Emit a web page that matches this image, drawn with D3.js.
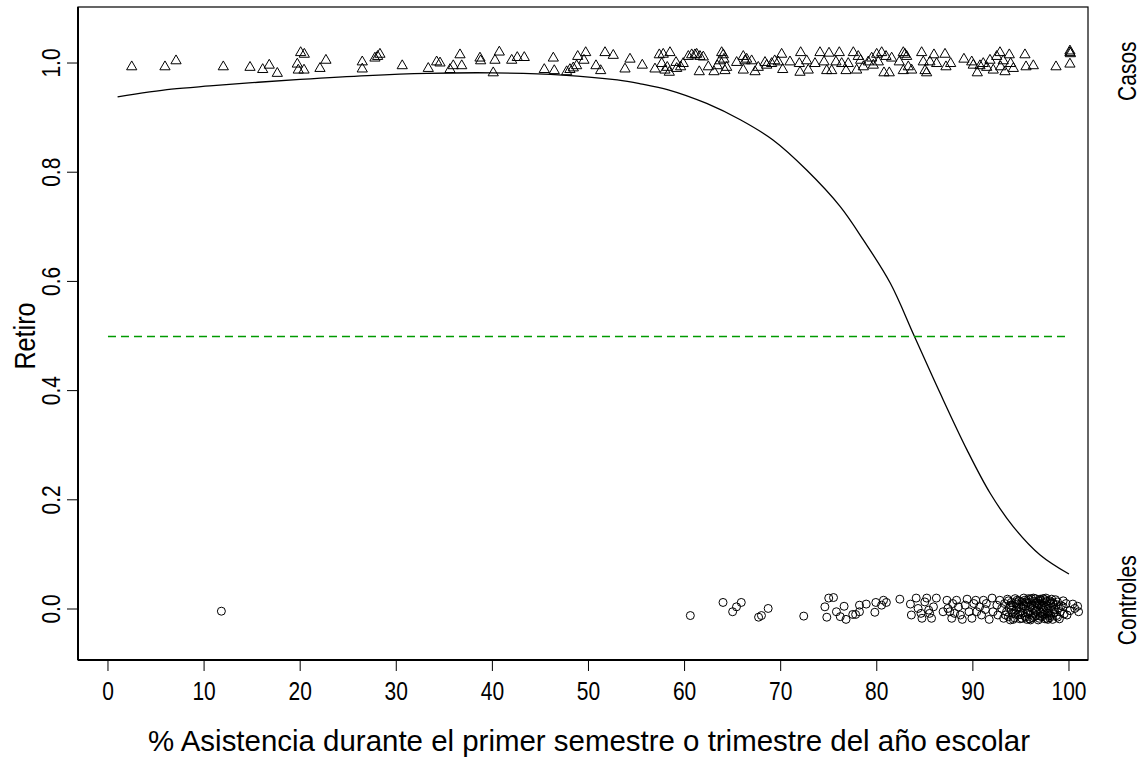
<!DOCTYPE html>
<html><head><meta charset="utf-8">
<script src="https://cdn.jsdelivr.net/npm/d3@7"></script>
<style>body{margin:0;background:#fff}svg{display:block}text{font-family:"Liberation Sans",Arial,sans-serif;fill:#000}</style>
</head><body><svg id="c" width="1141" height="767"></svg>
<script>
// ---- data ----
const xTicks = [0,10,20,30,40,50,60,70,80,90,100];
const yTicks = [0.0,0.2,0.4,0.6,0.8,1.0];
const yTickLabels = ["0.0","0.2","0.4","0.6","0.8","1.0"];
const xTitle = "% Asistencia durante el primer semestre o trimestre del año escolar";
const yTitle = "Retiro";
const groupLabels = ["Casos","Controles"];
const groupValues = [0.985, 0.016];
const cutoff = 0.5;

const curveX = [1,6.6,10.6,15,20,27,33.2,40,47.3,53,55.4,58.3,62.3,65.8,69.2,72.7,76.2,78.6,81.4,83.9,86.6,89.4,91.8,94.2,97.0,100];
const curveY = [0.938,0.952,0.958,0.964,0.970,0.977,0.981,0.982,0.978,0.969,0.962,0.951,0.926,0.896,0.859,0.804,0.737,0.676,0.597,0.500,0.395,0.291,0.212,0.151,0.099,0.064];

const casoX = [2.47,5.93,7.08,12.0,14.78,16.10,16.78,17.62,19.70,20.05,20.43,19.80,20.40,22.06,22.68,26.46,26.46,27.78,28.06,28.30,30.62,33.33,
34.20,34.55,35.59,35.93,36.81,36.63,38.71,38.78,40.27,40.09,40.72,42.01,42.59,43.32,45.40,46.34,46.44,47.73,48.07,48.42,48.77,48.88,49.53,49.71,50.78,51.27,51.72,52.58,53.80,54.32,55.60,56.92,57.37,57.62,57.78,57.96,58.20,58.48,58.41,59.11,59.18,59.59,59.86,60.39,60.74,61.08,61.26,61.60,61.95,61.53,62.47,63.06,63.40,63.68,63.86,64.03,64.10,64.20,64.38,65.42,66.11,66.29,66.11,66.46,66.98,67.33,67.67,68.37,68.55,69.06,69.38,69.75,
70.10,70.21,70.97,71.94,72.08,72.01,72.71,72.87,73.57,74.09,74.51,74.79,75.03,75.31,75.75,76.10,76.35,76.80,77.03,77.56,77.91,78.07,78.32,78.60,79.12,79.47,79.64,79.99,80.16,80.51,80.75,80.96,81.30,81.55,82.34,82.76,82.93,83.11,83.28,82.76,83.63,84.67,84.84,85.02,85.19,85.53,85.95,86.23,87.10,87.20,87.69,89.07,89.88,90.04,90.46,90.74,91.08,91.44,91.78,92.12,92.48,92.82,92.89,93.16,93.34,93.79,93.93,94.21,95.42,95.53,96.29,98.65,100.10,100.10,100.10,100.15];
const casoY = [0.993,0.993,1.004,0.993,0.992,0.988,0.996,0.981,0.998,1.019,1.016,0.987,0.987,0.990,1.005,1.002,0.989,1.009,1.012,1.016,0.995,0.990,
1.002,1.000,0.988,0.995,0.995,1.015,1.009,1.004,1.005,0.982,1.020,1.005,1.010,1.010,0.988,1.009,0.986,0.984,0.988,0.991,0.995,1.012,1.005,1.019,0.995,0.986,1.019,1.014,0.989,1.007,0.996,0.989,1.015,0.999,1.016,0.987,0.992,1.019,0.983,1.001,0.990,0.993,0.999,1.012,1.015,1.015,1.016,1.012,1.011,0.984,0.993,0.984,0.995,1.004,1.019,1.015,1.007,0.986,0.992,1.001,1.012,1.004,0.987,1.007,1.004,0.984,0.992,1.001,0.996,0.999,1.004,1.002,
1.016,0.988,1.002,0.999,1.019,0.983,1.004,0.987,0.999,1.019,1.002,0.986,1.018,0.986,1.002,1.019,0.999,0.986,0.999,1.019,0.987,1.012,1.005,0.993,1.002,1.009,0.996,1.016,1.002,1.019,0.982,1.012,0.982,1.009,1.002,1.019,1.016,1.012,0.993,0.986,0.987,1.019,1.002,0.986,0.982,1.002,1.015,0.999,1.016,0.993,0.999,1.007,1.002,0.996,0.982,0.995,0.999,0.992,1.005,0.987,1.012,1.019,0.993,1.004,0.984,1.015,0.999,0.990,1.015,0.993,0.995,0.993,1.019,0.998,1.022,1.017];

const conX = [11.8,60.6,64.0,65.0,65.4,65.9,67.7,68.0,68.7,72.4,74.6,74.8,75.0,75.5,75.8,76.2,76.6,76.8,77.5,77.8,78.2,78.2,78.9,79.8,79.9,80.5,80.7,81.0,82.4,83.5,83.6,84.1,84.3,84.6,84.7,85.0,85.2,85.4,85.5,85.7,85.9,86.2,86.9,87.3,87.4,87.6,87.8,87.9,88.1,88.3,88.5,88.7,88.9,89.2,89.4,89.6,89.9,90.1,90.3,90.4,90.7,90.9,91.1,91.3,91.4,91.7,92.0,92.1,92.5,92.6,92.8,93.0,93.2,
93.3,93.5,93.6,93.7,93.8,93.9,94.0,94.1,94.2,94.3,94.4,94.5,94.6,94.7,94.8,94.9,95.0,95.1,95.2,95.3,95.4,95.5,95.6,95.7,95.8,95.9,96.0,96.1,96.2,96.3,96.4,96.5,96.6,96.7,96.8,96.9,97.0,97.1,97.2,97.3,97.4,97.5,97.6,97.7,97.8,97.9,98.0,98.1,98.2,98.3,98.4,98.5,98.6,98.8,98.9,
93.4,93.9,94.2,94.6,94.9,95.2,95.5,95.8,96.0,96.3,96.6,96.9,97.1,97.4,97.7,97.9,98.2,98.5,98.7,99.0,
94.0,94.4,94.8,95.1,95.4,95.7,96.1,96.4,96.7,97.0,97.3,97.6,97.8,98.1,98.4,98.8,99.2,99.5,99.7,100.1,
95.0,95.3,95.6,95.9,96.2,96.5,96.8,97.2,97.5,97.8,98.0,98.3,96.0,96.5,97.0,97.5,96.3,97.3,94.5,93.7,
99.4,99.8,100.4,100.6,100.9,101.0,99.4,99.1,98.7];
const conY = [-0.004,-0.012,0.012,-0.005,0.004,0.012,-0.015,-0.012,0.001,-0.013,0.004,-0.015,0.020,0.021,-0.005,-0.014,0.005,-0.019,-0.010,-0.010,-0.005,0.007,0.009,-0.006,0.012,0.007,0.016,0.012,0.018,0.009,-0.011,0.020,0.001,-0.008,-0.017,0.013,0.020,-0.002,-0.008,-0.017,0.004,0.020,-0.005,0.016,0.001,-0.005,-0.017,0.010,-0.008,0.016,0.004,-0.011,-0.019,0.007,0.018,-0.005,-0.017,0.010,0.016,-0.005,0.004,-0.011,0.016,-0.001,0.010,-0.019,0.020,-0.005,0.007,-0.011,0.016,0.001,-0.017,
0.010,-0.005,0.018,-0.014,0.003,-0.020,0.012,-0.008,0.006,-0.016,0.019,-0.002,0.009,-0.011,0.015,-0.018,0.002,0.013,-0.007,0.020,-0.013,0.005,-0.019,0.011,-0.003,0.017,-0.010,0.007,-0.016,0.014,-0.001,0.019,-0.012,0.004,-0.020,0.010,-0.006,0.016,-0.014,0.001,0.012,-0.009,0.020,-0.017,0.006,-0.004,0.015,-0.012,0.003,-0.019,0.009,-0.006,0.017,-0.015,0.002,
-0.011,0.007,-0.019,0.016,-0.006,0.009,-0.015,0.019,0.003,-0.008,0.012,-0.017,0.005,-0.003,0.014,-0.012,0.018,-0.001,0.008,-0.018,
-0.002,-0.009,0.004,-0.017,0.016,-0.008,0.019,-0.014,0.008,0.018,-0.010,0.002,-0.019,0.011,-0.008,0.013,0.006,-0.009,0.010,-0.003,
-0.010,0.006,0.013,-0.018,0.001,-0.004,0.015,0.008,0.017,-0.007,-0.016,0.012,-0.020,0.010,-0.013,-0.018,0.020,0.019,0.012,0.015,
0.015,-0.011,0.009,0.001,0.005,-0.005,0.004,-0.005,-0.012];

// ---- layout ----
const svg = d3.select("#c");
const L = 78, R = 1088, T = 7, B = 660;
const x = d3.scaleLinear().domain([-3.12, 101.98]).range([L, R]);
const y = d3.scaleLinear().domain([-0.0934, 1.1026]).range([B, T]);
const SX = 0.84; // horizontal condensing of text to mimic reference glyphs

// points
const cr = 4.0;
svg.append("g").selectAll("circle").data(conX.map((v,i)=>[v,conY[i]])).join("circle")
  .attr("cx", d=>x(d[0])).attr("cy", d=>y(d[1])).attr("r", cr)
  .attr("fill","none").attr("stroke","#000").attr("stroke-width",1);

const tr = 3.8;
const tri = `M0,${-tr*1.555}L${tr*1.347},${tr*0.778}L${-tr*1.347},${tr*0.778}Z`;
svg.append("g").selectAll("path").data(casoX.map((v,i)=>[v,casoY[i]])).join("path")
  .attr("d", tri).attr("transform", d=>`translate(${x(d[0])},${y(d[1])})`)
  .attr("fill","none").attr("stroke","#000").attr("stroke-width",1);

// fitted curve
svg.append("path").datum(curveX.map((v,i)=>[v,curveY[i]]))
  .attr("d", d3.line().x(d=>x(d[0])).y(d=>y(d[1])).curve(d3.curveCatmullRom.alpha(0.5)))
  .attr("fill","none").attr("stroke","#000").attr("stroke-width",1.3);

// cutoff line
svg.append("line").attr("x1", x(0)).attr("x2", x(100)).attr("y1", Math.round(y(cutoff))+0.5).attr("y2", Math.round(y(cutoff))+0.5)
  .attr("stroke","#009a00").attr("stroke-width",1.3).attr("stroke-dasharray","8,5");

// box
svg.append("rect").attr("x",L).attr("y",T).attr("width",R-L).attr("height",B-T)
  .attr("fill","none").attr("stroke","#000").attr("stroke-width",1.2);
svg.append("line").attr("x1",L).attr("x2",L).attr("y1",T).attr("y2",B).attr("stroke","#000").attr("stroke-width",2);
svg.append("line").attr("x1",L).attr("x2",R).attr("y1",B).attr("y2",B).attr("stroke","#000").attr("stroke-width",2);

// x axis
const xa = svg.append("g");
xa.selectAll("line").data(xTicks).join("line")
  .attr("x1",d=>x(d)).attr("x2",d=>x(d)).attr("y1",B).attr("y2",B+11).attr("stroke","#000");
xa.selectAll("text").data(xTicks).join("text")
  .attr("transform",d=>`translate(${x(d)},${B+40}) scale(${SX},1)`).attr("text-anchor","middle").attr("font-size",25).text(d=>d);
svg.append("text").attr("x",(L+R)/2+6).attr("y",751).attr("text-anchor","middle").attr("font-size",30)
  .attr("textLength",882).attr("lengthAdjust","spacingAndGlyphs").text(xTitle);

// y axis
const ya = svg.append("g");
ya.selectAll("line").data(yTicks).join("line")
  .attr("x1",L).attr("x2",L-11).attr("y1",d=>y(d)).attr("y2",d=>y(d)).attr("stroke","#000");
ya.selectAll("text").data(yTicks).join("text")
  .attr("transform",d=>`translate(60,${y(d)}) rotate(-90) scale(${SX},1)`).attr("text-anchor","middle")
  .attr("font-size",25).text((d,i)=>yTickLabels[i]);
svg.append("text").attr("transform",`translate(35,${y(0.5)}) rotate(-90) scale(${SX},1)`).attr("text-anchor","middle")
  .attr("font-size",30).text(yTitle);

// right-side group labels
svg.selectAll("text.grp").data(groupLabels).join("text").attr("class","grp")
  .attr("transform",(d,i)=>`translate(1136,${y(groupValues[i])}) rotate(-90) scale(${SX},1)`).attr("text-anchor","middle")
  .attr("font-size",25).text(d=>d);
</script></body></html>
